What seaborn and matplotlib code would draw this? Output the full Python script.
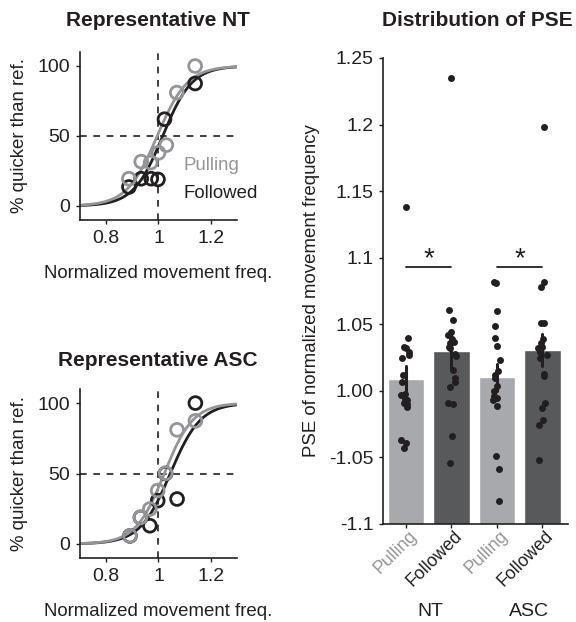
import numpy as np
import pandas as pd
import matplotlib
matplotlib.use('Agg')
import matplotlib.pyplot as plt
import seaborn as sns

# ---- psychometric data (representative participants) ----
levels_nt = [0.887, 0.934, 0.970, 1.000, 1.030, 1.070, 1.140]
nt_pulling = [19.5, 31.7, 31.0, 38.0, 43.5, 81.0, 100.0]
nt_followed_x = [0.887, 0.934, 0.972, 0.998, 1.023, 1.140]
nt_followed = [13.6, 19.5, 19.5, 19.0, 62.0, 87.5]

levels_asc = [0.891, 0.931, 0.967, 0.997, 1.027, 1.071, 1.141]
asc_pulling = [5.7, 18.8, 24.8, 37.9, 50.2, 81.0, 87.4]
asc_followed = [5.7, 18.8, 12.9, 30.7, 50.0, 31.9, 100.0]

# fitted logistic parameters (PSE, slope)
fit_nt = {'Pulling': (0.995, 0.058), 'Followed': (1.016, 0.056)}
fit_asc = {'Pulling': (1.022, 0.055), 'Followed': (1.045, 0.058)}

# ---- PSE distribution ----
pse_nt_pulling = [1.138, 1.040, 1.033, 1.032, 1.029, 1.027, 1.025, 1.012, 1.007,
                  0.998, 0.997, 0.994, 0.993, 0.991, 0.990, 0.988, 0.963, 0.961, 0.957]
pse_nt_followed = [1.235, 1.061, 1.053, 1.044, 1.042, 1.039, 1.037, 1.036, 1.033,
                   1.032, 1.028, 1.026, 1.016, 1.010, 1.007, 1.003, 0.991, 0.990,
                   0.966, 0.946]
pse_asc_pulling = [1.082, 1.081, 1.060, 1.049, 1.040, 1.034, 1.023, 1.015, 1.012,
                   1.010, 1.004, 1.000, 0.996, 0.995, 0.993, 0.989, 0.951, 0.941, 0.917]
pse_asc_followed = [1.198, 1.082, 1.078, 1.051, 1.051, 1.039, 1.036, 1.033, 1.032,
                    1.029, 1.027, 1.025, 1.013, 1.011, 0.991, 0.987, 0.978, 0.974, 0.948]

bar_order = ['NT Pulling', 'NT Followed', 'ASC Pulling', 'ASC Followed']
tick_labels = ['Pulling', 'Followed', 'Pulling', 'Followed']
ytick_vals = [0.90, 0.95, 1.00, 1.05, 1.10, 1.15, 1.20, 1.25]
ytick_text = ['-1.1', '-1.05', '1.00', '1.05', '1.1', '1.15', '1.2', '1.25']

GRAY = '#939598'
BLACK = '#231f20'
BAR_LIGHT = '#a7a9ac'
BAR_DARK = '#58595b'

sns.set_theme(style='ticks')
plt.rcParams['font.family'] = ['Liberation Sans', 'DejaVu Sans']
plt.rcParams['axes.edgecolor'] = BLACK
plt.rcParams['axes.linewidth'] = 1.2
plt.rcParams['xtick.color'] = BLACK
plt.rcParams['ytick.color'] = BLACK
plt.rcParams['text.color'] = BLACK
plt.rcParams['axes.labelcolor'] = BLACK

FS = 13.4
TICK_FS = 14

fig = plt.figure(figsize=(5.76, 6.22), dpi=100)
W, H = 576, 622
ax1 = fig.add_axes([80 / W, 1 - 220 / H, 157 / W, 168 / H])
ax2 = fig.add_axes([80 / W, 1 - 558 / H, 157 / W, 169 / H])
ax3 = fig.add_axes([383 / W, 1 - 524 / H, 185 / W, 466 / H])


def logistic(x, pse, s):
    return 100.0 / (1.0 + np.exp(-(x - pse) / s))


def psych_panel(ax, fits, pts):
    xs = np.linspace(0.7, 1.3, 300)
    ax.axvline(1.0, color=BLACK, ls=(0, (4, 4)), lw=1.2, zorder=1)
    ax.axhline(50, color=BLACK, ls=(0, (4, 4)), lw=1.2, zorder=1)
    for cond, col in [('Followed', BLACK), ('Pulling', GRAY)]:
        pse, s = fits[cond]
        curve = pd.DataFrame({'x': xs, 'y': logistic(xs, pse, s)})
        sns.lineplot(data=curve, x='x', y='y', color=col, lw=2, ax=ax, zorder=2)
    for (px, py, col) in pts:
        df = pd.DataFrame({'x': px, 'y': py})
        sns.scatterplot(data=df, x='x', y='y', ax=ax, s=85, facecolor='none',
                        edgecolor=col, linewidth=2, zorder=3)
    ax.set_xlim(0.7, 1.3)
    ax.set_ylim(-10, 110)
    ax.set_xticks([0.8, 1.0, 1.2])
    ax.set_xticklabels(['0.8', '1', '1.2'])
    ax.set_yticks([0, 50, 100])
    ax.set_yticklabels(['0', '50', '100'])
    ax.tick_params(labelsize=TICK_FS, length=3, width=1, pad=4)
    ax.set_xlabel('Normalized movement freq.', fontsize=FS, labelpad=13)
    ax.set_ylabel('% quicker than ref.', fontsize=FS, labelpad=7)
    sns.despine(ax=ax)


psych_panel(ax1, fit_nt, [(nt_followed_x, nt_followed, BLACK), (levels_nt, nt_pulling, GRAY)])
psych_panel(ax2, fit_asc, [(levels_asc, asc_followed, BLACK), (levels_asc, asc_pulling, GRAY)])

ax1.text(1.095, 29, 'Pulling', color=GRAY, fontsize=FS, va='center', ha='left')
ax1.text(1.095, 9, 'Followed', color=BLACK, fontsize=FS, va='center', ha='left')

# ---- right panel ----
rows = []
for name, vals in zip(bar_order, [pse_nt_pulling, pse_nt_followed, pse_asc_pulling, pse_asc_followed]):
    for v in vals:
        rows.append({'bar': name, 'pse': v})
pse_df = pd.DataFrame(rows)

palette = {'NT Pulling': BAR_LIGHT, 'NT Followed': BAR_DARK,
           'ASC Pulling': BAR_LIGHT, 'ASC Followed': BAR_DARK}
sns.barplot(data=pse_df, x='bar', y='pse', order=bar_order, hue='bar', palette=palette,
            legend=False, errorbar='se', width=0.8, saturation=1,
            err_kws={'color': BLACK, 'linewidth': 2.2}, ax=ax3)
np.random.seed(3)
sns.stripplot(data=pse_df, x='bar', y='pse', order=bar_order, color=BLACK, size=5,
              jitter=0.1, ax=ax3, zorder=4)

ax3.set_ylim(0.9, 1.25)
ax3.set_xlim(-0.5, 3.56)
ax3.set_yticks(ytick_vals)
ax3.set_yticklabels(ytick_text)
ax3.set_xticks(range(4))
ax3.set_xticklabels([])
# rotated category labels, nudged right of each tick as in the original
for i, (lab, col) in enumerate(zip(tick_labels, [GRAY, BLACK, GRAY, BLACK])):
    ax3.annotate(lab, xy=(i, 0), xycoords=('data', 'axes fraction'),
                 xytext=(6, -6.5), textcoords='offset points', rotation=45,
                 ha='right', va='center', rotation_mode='anchor',
                 fontsize=12.8, color=col)
ax3.tick_params(axis='y', labelsize=TICK_FS, length=3, width=1, pad=4)
ax3.tick_params(axis='x', length=3, width=1)
ax3.set_xlabel('')
ax3.set_ylabel('PSE of normalized movement frequency', fontsize=FS, labelpad=6)
sns.despine(ax=ax3)

# significance markers
for x0, x1 in [(0, 1), (2, 3)]:
    ax3.plot([x0, x1], [1.093, 1.093], color=BLACK, lw=1.3)
    ax3.text((x0 + x1) / 2, 1.0888, '*', ha='center', va='bottom', fontsize=20)

fig.text(430 / W, 1 - 612 / H, 'NT', ha='center', va='center', fontsize=TICK_FS)
fig.text(529 / W, 1 - 612 / H, 'ASC', ha='center', va='center', fontsize=TICK_FS)

fig.text(158 / W, 1 - 20 / H, 'Representative NT', ha='center', va='center',
         fontsize=15, weight='bold')
fig.text(158 / W, 1 - 360 / H, 'Representative ASC', ha='center', va='center',
         fontsize=15, weight='bold')
fig.text(477 / W, 1 - 20 / H, 'Distribution of PSE', ha='center', va='center',
         fontsize=15, weight='bold')

fig.savefig('out.png', dpi=100)
